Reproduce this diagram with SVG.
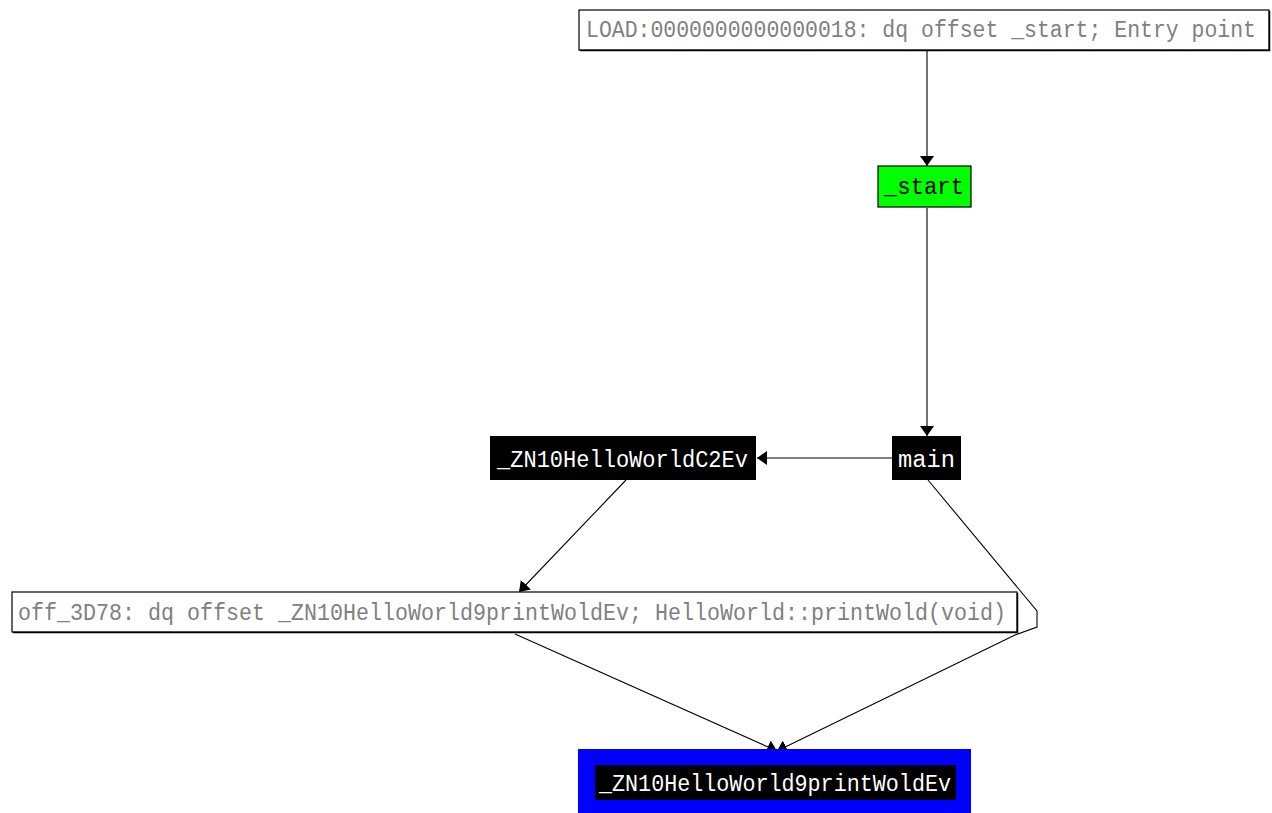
<svg xmlns="http://www.w3.org/2000/svg" width="1272" height="813" viewBox="0 0 1272 813">
  <defs>
    <marker id="arrow" viewBox="0 0 10 14" refX="10" refY="7" markerWidth="10" markerHeight="14" markerUnits="userSpaceOnUse" orient="auto">
      <path d="M0,0 L10,7 L0,14 Z" fill="#000"/>
    </marker>
  </defs>
  <style>
    .edge { fill: none; stroke: #000; stroke-width: 1.1; marker-end: url(#arrow); }
    .lbl { font-family: "Liberation Mono", "DejaVu Sans Mono", monospace; font-size: 23px; }
    .ref { fill: #fff; stroke: #000; stroke-width: 1.2; }
    .refshadow { fill: none; stroke: #000; stroke-width: 1.5; }
    .reftext { fill: #808080; }
    .func { fill: #000; }
    .functext { fill: #fff; }
  </style>
  <rect x="0" y="0" width="1272" height="813" fill="#fff"/>

  <!-- call edges -->
  <g id="edges">
    <path class="edge" d="M927,51 L927,166"/>
    <path class="edge" d="M927,208 L927,436"/>
    <path class="edge" d="M892,458 L757,458"/>
    <path class="edge" d="M626,480 L519,592"/>
    <path class="edge" d="M515,634 L777,751"/>
    <path class="edge" d="M928,480 L1037,611 L1037,627 L1015,635 L777,751"/>
  </g>

  <g id="node-load">
    <rect class="ref" x="579" y="10" width="690" height="40"/>
    <path class="refshadow" d="M580,50.5 L1269.5,50.5 L1269.5,11"/>
    <text class="lbl reftext" x="586" y="37" textLength="670" lengthAdjust="spacingAndGlyphs">LOAD:0000000000000018: dq offset _start; Entry point</text>
  </g>

  <g id="node-start">
    <rect x="878" y="166" width="93" height="41" fill="#00ff00" stroke="#000" stroke-width="1.2"/>
    <text class="lbl" x="884" y="194" textLength="80" lengthAdjust="spacingAndGlyphs" fill="#000">_start</text>
  </g>

  <g id="node-main">
    <rect class="func" x="892" y="436" width="69" height="44"/>
    <text class="lbl functext" x="898" y="467" textLength="57" lengthAdjust="spacingAndGlyphs">main</text>
  </g>

  <g id="node-ctor">
    <rect class="func" x="490" y="436" width="266" height="44"/>
    <text class="lbl functext" x="497" y="467" textLength="251" lengthAdjust="spacingAndGlyphs">_ZN10HelloWorldC2Ev</text>
  </g>

  <g id="node-off">
    <rect class="ref" x="12" y="592" width="1005" height="40"/>
    <path class="refshadow" d="M13,632.5 L1017.5,632.5 L1017.5,593"/>
    <text class="lbl reftext" x="18" y="620" textLength="988" lengthAdjust="spacingAndGlyphs">off_3D78: dq offset _ZN10HelloWorld9printWoldEv; HelloWorld::printWold(void)</text>
  </g>

  <g id="node-print">
    <rect x="578" y="749" width="393" height="70" fill="#0000ff"/>
    <rect class="func" x="595" y="765" width="361" height="35"/>
    <text class="lbl functext" x="599" y="791" textLength="352" lengthAdjust="spacingAndGlyphs">_ZN10HelloWorld9printWoldEv</text>
  </g>
</svg>
